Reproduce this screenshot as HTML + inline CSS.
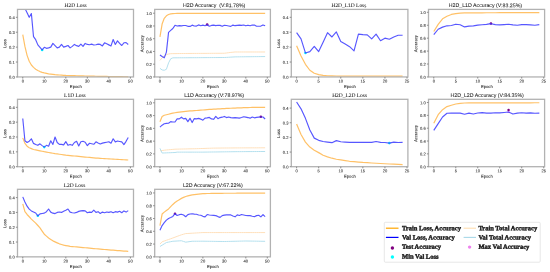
<!DOCTYPE html>
<html><head><meta charset="utf-8"><style>
html,body{margin:0;padding:0;background:#fff;}
body{width:550px;height:272px;overflow:hidden;}
svg{display:block;will-change:transform;}
text{text-rendering:geometricPrecision;}
</style></head><body>
<svg width="550" height="272" viewBox="0 0 550 272">
<defs></defs>
<rect width="550" height="272" fill="#fff"/>
<clipPath id="c0"><rect x="17.5" y="9.4" width="116.00" height="68.35"/></clipPath>
<g clip-path="url(#c0)"><circle cx="42.14" cy="49.96" r="1.3" fill="#00ffff"/><polyline points="22.77,34.60 24.92,46.38 27.08,55.33 29.23,61.29 31.38,65.02 33.53,67.41 35.69,69.20 37.84,70.54 39.99,71.58 42.14,72.33 44.29,72.92 46.45,73.37 48.60,73.82 50.75,74.12 52.90,74.42 55.05,74.71 57.21,74.86 59.36,75.01 61.51,75.16 63.66,75.31 65.82,75.46 67.97,75.52 70.12,75.58 72.27,75.64 74.42,75.70 76.58,75.76 78.73,75.82 80.88,75.88 83.03,75.94 85.18,76.00 87.34,76.06 89.49,76.10 91.64,76.14 93.79,76.19 95.95,76.23 98.10,76.28 100.25,76.32 102.40,76.37 104.55,76.41 106.71,76.46 108.86,76.50 111.01,76.54 113.16,76.57 115.31,76.60 117.47,76.64 119.62,76.67 121.77,76.70 123.92,76.73 126.08,76.77 128.23,76.80" fill="none" stroke="#ffa726" stroke-width="1.2" stroke-opacity="0.7" stroke-linejoin="round"/><polyline points="22.77,2.39 24.92,8.36 27.08,12.83 29.23,17.30 31.38,13.58 33.53,36.69 35.69,39.67 37.84,44.89 39.99,47.42 42.14,49.96 44.29,47.28 46.45,48.32 48.60,47.87 50.75,47.13 52.90,43.40 55.05,45.64 57.21,47.87 59.36,47.13 61.51,44.44 63.66,47.13 65.82,46.38 67.97,45.49 70.12,47.87 72.27,46.38 74.42,44.44 76.58,45.64 78.73,46.38 80.88,44.14 83.03,46.38 85.18,43.40 87.34,44.44 89.49,44.74 91.64,44.14 93.79,45.04 95.95,44.74 98.10,44.14 100.25,44.44 102.40,45.93 104.55,42.80 106.71,43.85 108.86,44.89 111.01,45.93 113.16,39.52 115.31,44.44 117.47,40.86 119.62,43.40 121.77,45.49 123.92,42.80 126.08,42.65 128.23,44.44" fill="none" stroke="#3a3aff" stroke-width="1.15" stroke-opacity="0.85" stroke-linejoin="round"/></g>
<rect x="17.5" y="9.4" width="116.00" height="67.55" fill="none" stroke="#b2b2b2" stroke-width="1.3"/>
<line x1="15.90" y1="76.95" x2="17.50" y2="76.95" stroke="#808080" stroke-width="0.9"/>
<text transform="translate(14.70,78.63) rotate(0.1)" x="0" y="0" font-size="4.1" text-anchor="end" fill="#1a1a1a" style="font-family:Liberation Sans,sans-serif;" stroke="#1a1a1a" stroke-width="0.050">0.0</text>
<line x1="15.90" y1="62.04" x2="17.50" y2="62.04" stroke="#808080" stroke-width="0.9"/>
<text transform="translate(14.70,63.71) rotate(0.1)" x="0" y="0" font-size="4.1" text-anchor="end" fill="#1a1a1a" style="font-family:Liberation Sans,sans-serif;" stroke="#1a1a1a" stroke-width="0.050">0.1</text>
<line x1="15.90" y1="47.13" x2="17.50" y2="47.13" stroke="#808080" stroke-width="0.9"/>
<text transform="translate(14.70,48.80) rotate(0.1)" x="0" y="0" font-size="4.1" text-anchor="end" fill="#1a1a1a" style="font-family:Liberation Sans,sans-serif;" stroke="#1a1a1a" stroke-width="0.050">0.2</text>
<line x1="15.90" y1="32.21" x2="17.50" y2="32.21" stroke="#808080" stroke-width="0.9"/>
<text transform="translate(14.70,33.89) rotate(0.1)" x="0" y="0" font-size="4.1" text-anchor="end" fill="#1a1a1a" style="font-family:Liberation Sans,sans-serif;" stroke="#1a1a1a" stroke-width="0.050">0.3</text>
<line x1="15.90" y1="17.30" x2="17.50" y2="17.30" stroke="#808080" stroke-width="0.9"/>
<text transform="translate(14.70,18.98) rotate(0.1)" x="0" y="0" font-size="4.1" text-anchor="end" fill="#1a1a1a" style="font-family:Liberation Sans,sans-serif;" stroke="#1a1a1a" stroke-width="0.050">0.4</text>
<line x1="22.77" y1="76.95" x2="22.77" y2="78.55" stroke="#808080" stroke-width="0.9"/>
<text transform="translate(22.77,82.60) rotate(0.1)" x="0" y="0" font-size="4.1" text-anchor="middle" fill="#1a1a1a" style="font-family:Liberation Sans,sans-serif;" stroke="#1a1a1a" stroke-width="0.050">0</text>
<line x1="44.29" y1="76.95" x2="44.29" y2="78.55" stroke="#808080" stroke-width="0.9"/>
<text transform="translate(44.29,82.60) rotate(0.1)" x="0" y="0" font-size="4.1" text-anchor="middle" fill="#1a1a1a" style="font-family:Liberation Sans,sans-serif;" stroke="#1a1a1a" stroke-width="0.050">10</text>
<line x1="65.82" y1="76.95" x2="65.82" y2="78.55" stroke="#808080" stroke-width="0.9"/>
<text transform="translate(65.82,82.60) rotate(0.1)" x="0" y="0" font-size="4.1" text-anchor="middle" fill="#1a1a1a" style="font-family:Liberation Sans,sans-serif;" stroke="#1a1a1a" stroke-width="0.050">20</text>
<line x1="87.34" y1="76.95" x2="87.34" y2="78.55" stroke="#808080" stroke-width="0.9"/>
<text transform="translate(87.34,82.60) rotate(0.1)" x="0" y="0" font-size="4.1" text-anchor="middle" fill="#1a1a1a" style="font-family:Liberation Sans,sans-serif;" stroke="#1a1a1a" stroke-width="0.050">30</text>
<line x1="108.86" y1="76.95" x2="108.86" y2="78.55" stroke="#808080" stroke-width="0.9"/>
<text transform="translate(108.86,82.60) rotate(0.1)" x="0" y="0" font-size="4.1" text-anchor="middle" fill="#1a1a1a" style="font-family:Liberation Sans,sans-serif;" stroke="#1a1a1a" stroke-width="0.050">40</text>
<line x1="130.38" y1="76.95" x2="130.38" y2="78.55" stroke="#808080" stroke-width="0.9"/>
<text transform="translate(130.38,82.60) rotate(0.1)" x="0" y="0" font-size="4.1" text-anchor="middle" fill="#1a1a1a" style="font-family:Liberation Sans,sans-serif;" stroke="#1a1a1a" stroke-width="0.050">50</text>
<text transform="translate(75.80,88.00) rotate(0.1)" x="0" y="0" font-size="4.2" text-anchor="middle" fill="#1a1a1a" style="font-family:Liberation Sans,sans-serif;" stroke="#1a1a1a" stroke-width="0.051">Epoch</text>
<text transform="translate(6.20,43.68) rotate(-89.9)" x="0" y="0" font-size="4.2" text-anchor="middle" fill="#1a1a1a" style="font-family:Liberation Sans,sans-serif;" stroke="#1a1a1a" stroke-width="0.051">Loss</text>
<text transform="translate(75.60,7.10) rotate(0.1)" x="0" y="0" font-size="5.45" text-anchor="middle" fill="#1a1a1a" style="font-family:Liberation Serif,serif;" stroke="#1a1a1a" stroke-width="0.053">H2D Loss</text>
<clipPath id="c1"><rect x="154.7" y="9.4" width="115.70" height="68.35"/></clipPath>
<g clip-path="url(#c1)"><circle cx="207.18" cy="24.57" r="1.3" fill="#800080"/><polyline points="159.96,60.38 162.11,57.83 164.25,55.92 166.40,54.65 168.55,54.01 170.69,53.69 172.84,53.65 174.99,53.61 177.13,53.58 179.28,53.54 181.42,53.50 183.57,53.49 185.72,53.47 187.86,53.46 190.01,53.45 192.16,53.43 194.30,53.42 196.45,53.41 198.60,53.40 200.74,53.38 202.89,53.37 205.04,53.36 207.18,53.35 209.33,53.33 211.48,53.32 213.62,53.31 215.77,53.29 217.92,53.28 220.06,53.27 222.21,53.26 224.36,53.24 226.50,52.97 228.65,52.69 230.80,52.42 232.94,52.19 235.09,51.97 237.24,51.97 239.38,51.97 241.53,51.97 243.68,51.97 245.82,51.97 247.97,51.97 250.11,51.97 252.26,51.97 254.41,51.97 256.55,51.97 258.70,51.97 260.85,51.97 262.99,51.97 265.14,51.97" fill="none" stroke="#ffe0bc" stroke-width="1.0" stroke-opacity="1.0" stroke-linejoin="round"/><polyline points="159.96,68.35 162.11,69.94 164.25,70.26 166.40,69.30 168.55,62.93 170.69,58.79 172.84,57.83 174.99,57.82 177.13,57.81 179.28,57.79 181.42,57.78 183.57,57.77 185.72,57.75 187.86,57.74 190.01,57.73 192.16,57.71 194.30,57.70 196.45,57.69 198.60,57.67 200.74,57.66 202.89,57.65 205.04,57.63 207.18,57.62 209.33,57.61 211.48,57.59 213.62,57.58 215.77,57.57 217.92,57.55 220.06,57.54 222.21,57.53 224.36,57.51 226.50,57.39 228.65,57.26 230.80,57.13 232.94,57.00 235.09,56.88 237.24,56.85 239.38,56.83 241.53,56.81 243.68,56.79 245.82,56.76 247.97,56.74 250.11,56.72 252.26,56.69 254.41,56.67 256.55,56.65 258.70,56.63 260.85,56.60 262.99,56.58 265.14,56.56" fill="none" stroke="#b4e0ee" stroke-width="1.0" stroke-opacity="1.0" stroke-linejoin="round"/><polyline points="159.96,36.80 162.11,24.06 164.25,18.32 166.40,15.77 168.55,14.50 170.69,13.86 172.84,13.54 174.99,13.49 177.13,13.45 179.28,13.40 181.42,13.35 183.57,13.35 185.72,13.35 187.86,13.35 190.01,13.34 192.16,13.34 194.30,13.34 196.45,13.34 198.60,13.34 200.74,13.34 202.89,13.33 205.04,13.33 207.18,13.33 209.33,13.33 211.48,13.33 213.62,13.33 215.77,13.32 217.92,13.32 220.06,13.32 222.21,13.32 224.36,13.32 226.50,13.32 228.65,13.32 230.80,13.31 232.94,13.31 235.09,13.31 237.24,13.31 239.38,13.31 241.53,13.31 243.68,13.30 245.82,13.30 247.97,13.30 250.11,13.30 252.26,13.30 254.41,13.30 256.55,13.29 258.70,13.29 260.85,13.29 262.99,13.29 265.14,13.29" fill="none" stroke="#ffa726" stroke-width="1.2" stroke-opacity="0.7" stroke-linejoin="round"/><polyline points="159.96,55.03 162.11,56.56 164.25,57.83 166.40,52.10 168.55,32.34 170.69,30.43 172.84,28.52 174.99,25.33 177.13,26.05 179.28,25.58 181.42,25.85 183.57,25.49 185.72,25.46 187.86,26.31 190.01,26.39 192.16,25.13 194.30,26.02 196.45,26.06 198.60,24.89 200.74,25.70 202.89,25.14 205.04,25.69 207.18,24.69 209.33,26.18 211.48,25.44 213.62,25.09 215.77,25.61 217.92,25.28 220.06,25.39 222.21,26.32 224.36,25.26 226.50,25.51 228.65,25.95 230.80,26.37 232.94,25.09 235.09,25.69 237.24,25.32 239.38,25.07 241.53,25.32 243.68,25.01 245.82,25.81 247.97,25.19 250.11,25.73 252.26,24.98 254.41,25.07 256.55,26.27 258.70,26.21 260.85,26.08 262.99,24.94 265.14,25.75" fill="none" stroke="#3a3aff" stroke-width="1.15" stroke-opacity="0.85" stroke-linejoin="round"/></g>
<rect x="154.7" y="9.4" width="115.70" height="67.55" fill="none" stroke="#b2b2b2" stroke-width="1.3"/>
<line x1="153.10" y1="76.95" x2="154.70" y2="76.95" stroke="#808080" stroke-width="0.9"/>
<text transform="translate(151.90,78.63) rotate(0.1)" x="0" y="0" font-size="4.1" text-anchor="end" fill="#1a1a1a" style="font-family:Liberation Sans,sans-serif;" stroke="#1a1a1a" stroke-width="0.050">0.0</text>
<line x1="153.10" y1="64.20" x2="154.70" y2="64.20" stroke="#808080" stroke-width="0.9"/>
<text transform="translate(151.90,65.88) rotate(0.1)" x="0" y="0" font-size="4.1" text-anchor="end" fill="#1a1a1a" style="font-family:Liberation Sans,sans-serif;" stroke="#1a1a1a" stroke-width="0.050">0.2</text>
<line x1="153.10" y1="51.46" x2="154.70" y2="51.46" stroke="#808080" stroke-width="0.9"/>
<text transform="translate(151.90,53.14) rotate(0.1)" x="0" y="0" font-size="4.1" text-anchor="end" fill="#1a1a1a" style="font-family:Liberation Sans,sans-serif;" stroke="#1a1a1a" stroke-width="0.050">0.4</text>
<line x1="153.10" y1="38.71" x2="154.70" y2="38.71" stroke="#808080" stroke-width="0.9"/>
<text transform="translate(151.90,40.39) rotate(0.1)" x="0" y="0" font-size="4.1" text-anchor="end" fill="#1a1a1a" style="font-family:Liberation Sans,sans-serif;" stroke="#1a1a1a" stroke-width="0.050">0.6</text>
<line x1="153.10" y1="25.97" x2="154.70" y2="25.97" stroke="#808080" stroke-width="0.9"/>
<text transform="translate(151.90,27.64) rotate(0.1)" x="0" y="0" font-size="4.1" text-anchor="end" fill="#1a1a1a" style="font-family:Liberation Sans,sans-serif;" stroke="#1a1a1a" stroke-width="0.050">0.8</text>
<line x1="153.10" y1="13.22" x2="154.70" y2="13.22" stroke="#808080" stroke-width="0.9"/>
<text transform="translate(151.90,14.90) rotate(0.1)" x="0" y="0" font-size="4.1" text-anchor="end" fill="#1a1a1a" style="font-family:Liberation Sans,sans-serif;" stroke="#1a1a1a" stroke-width="0.050">1.0</text>
<line x1="159.96" y1="76.95" x2="159.96" y2="78.55" stroke="#808080" stroke-width="0.9"/>
<text transform="translate(159.96,82.60) rotate(0.1)" x="0" y="0" font-size="4.1" text-anchor="middle" fill="#1a1a1a" style="font-family:Liberation Sans,sans-serif;" stroke="#1a1a1a" stroke-width="0.050">0</text>
<line x1="181.42" y1="76.95" x2="181.42" y2="78.55" stroke="#808080" stroke-width="0.9"/>
<text transform="translate(181.42,82.60) rotate(0.1)" x="0" y="0" font-size="4.1" text-anchor="middle" fill="#1a1a1a" style="font-family:Liberation Sans,sans-serif;" stroke="#1a1a1a" stroke-width="0.050">10</text>
<line x1="202.89" y1="76.95" x2="202.89" y2="78.55" stroke="#808080" stroke-width="0.9"/>
<text transform="translate(202.89,82.60) rotate(0.1)" x="0" y="0" font-size="4.1" text-anchor="middle" fill="#1a1a1a" style="font-family:Liberation Sans,sans-serif;" stroke="#1a1a1a" stroke-width="0.050">20</text>
<line x1="224.36" y1="76.95" x2="224.36" y2="78.55" stroke="#808080" stroke-width="0.9"/>
<text transform="translate(224.36,82.60) rotate(0.1)" x="0" y="0" font-size="4.1" text-anchor="middle" fill="#1a1a1a" style="font-family:Liberation Sans,sans-serif;" stroke="#1a1a1a" stroke-width="0.050">30</text>
<line x1="245.82" y1="76.95" x2="245.82" y2="78.55" stroke="#808080" stroke-width="0.9"/>
<text transform="translate(245.82,82.60) rotate(0.1)" x="0" y="0" font-size="4.1" text-anchor="middle" fill="#1a1a1a" style="font-family:Liberation Sans,sans-serif;" stroke="#1a1a1a" stroke-width="0.050">40</text>
<line x1="267.29" y1="76.95" x2="267.29" y2="78.55" stroke="#808080" stroke-width="0.9"/>
<text transform="translate(267.29,82.60) rotate(0.1)" x="0" y="0" font-size="4.1" text-anchor="middle" fill="#1a1a1a" style="font-family:Liberation Sans,sans-serif;" stroke="#1a1a1a" stroke-width="0.050">50</text>
<text transform="translate(212.85,88.00) rotate(0.1)" x="0" y="0" font-size="4.2" text-anchor="middle" fill="#1a1a1a" style="font-family:Liberation Sans,sans-serif;" stroke="#1a1a1a" stroke-width="0.051">Epoch</text>
<text transform="translate(143.40,43.68) rotate(-89.9)" x="0" y="0" font-size="4.2" text-anchor="middle" fill="#1a1a1a" style="font-family:Liberation Sans,sans-serif;" stroke="#1a1a1a" stroke-width="0.051">Accuracy</text>
<text transform="translate(214.20,7.10) rotate(0.1)" x="0" y="0" font-size="5.25" text-anchor="middle" fill="#1a1a1a" style="font-family:Liberation Sans,sans-serif;" stroke="#1a1a1a" stroke-width="0.051" xml:space="preserve">H2D Accuracy  (V:81.78%)</text>
<clipPath id="c2"><rect x="291.3" y="9.4" width="116.60" height="68.35"/></clipPath>
<g clip-path="url(#c2)"><circle cx="305.43" cy="52.94" r="1.3" fill="#00ffff"/><polyline points="296.60,45.78 301.02,56.07 305.43,64.28 309.85,70.24 314.27,73.22 318.68,74.56 323.10,75.31 327.52,75.76 331.93,75.91 336.35,75.98 340.77,76.06 345.18,76.09 349.60,76.11 354.02,76.14 358.43,76.17 362.85,76.20 367.27,76.20 371.68,76.20 376.10,76.20 380.52,76.20 384.93,76.20 389.35,76.20 393.77,76.20 398.18,76.20 402.60,76.20" fill="none" stroke="#ffa726" stroke-width="1.2" stroke-opacity="0.7" stroke-linejoin="round"/><polyline points="296.60,32.66 301.02,38.93 305.43,52.94 309.85,51.60 314.27,46.38 318.68,51.60 323.10,42.21 327.52,32.66 331.93,36.99 336.35,31.92 340.77,41.46 345.18,44.00 349.60,46.68 354.02,50.85 358.43,34.15 362.85,34.60 367.27,34.90 371.68,38.93 376.10,34.15 380.52,40.71 384.93,38.18 389.35,39.22 393.77,36.99 398.18,35.20 402.60,35.20" fill="none" stroke="#3a3aff" stroke-width="1.15" stroke-opacity="0.85" stroke-linejoin="round"/></g>
<rect x="291.3" y="9.4" width="116.60" height="67.55" fill="none" stroke="#b2b2b2" stroke-width="1.3"/>
<line x1="289.70" y1="76.95" x2="291.30" y2="76.95" stroke="#808080" stroke-width="0.9"/>
<text transform="translate(288.50,78.63) rotate(0.1)" x="0" y="0" font-size="4.1" text-anchor="end" fill="#1a1a1a" style="font-family:Liberation Sans,sans-serif;" stroke="#1a1a1a" stroke-width="0.050">0.0</text>
<line x1="289.70" y1="62.04" x2="291.30" y2="62.04" stroke="#808080" stroke-width="0.9"/>
<text transform="translate(288.50,63.71) rotate(0.1)" x="0" y="0" font-size="4.1" text-anchor="end" fill="#1a1a1a" style="font-family:Liberation Sans,sans-serif;" stroke="#1a1a1a" stroke-width="0.050">0.1</text>
<line x1="289.70" y1="47.13" x2="291.30" y2="47.13" stroke="#808080" stroke-width="0.9"/>
<text transform="translate(288.50,48.80) rotate(0.1)" x="0" y="0" font-size="4.1" text-anchor="end" fill="#1a1a1a" style="font-family:Liberation Sans,sans-serif;" stroke="#1a1a1a" stroke-width="0.050">0.2</text>
<line x1="289.70" y1="32.21" x2="291.30" y2="32.21" stroke="#808080" stroke-width="0.9"/>
<text transform="translate(288.50,33.89) rotate(0.1)" x="0" y="0" font-size="4.1" text-anchor="end" fill="#1a1a1a" style="font-family:Liberation Sans,sans-serif;" stroke="#1a1a1a" stroke-width="0.050">0.3</text>
<line x1="289.70" y1="17.30" x2="291.30" y2="17.30" stroke="#808080" stroke-width="0.9"/>
<text transform="translate(288.50,18.98) rotate(0.1)" x="0" y="0" font-size="4.1" text-anchor="end" fill="#1a1a1a" style="font-family:Liberation Sans,sans-serif;" stroke="#1a1a1a" stroke-width="0.050">0.4</text>
<line x1="296.60" y1="76.95" x2="296.60" y2="78.55" stroke="#808080" stroke-width="0.9"/>
<text transform="translate(296.60,82.60) rotate(0.1)" x="0" y="0" font-size="4.1" text-anchor="middle" fill="#1a1a1a" style="font-family:Liberation Sans,sans-serif;" stroke="#1a1a1a" stroke-width="0.050">0</text>
<line x1="318.68" y1="76.95" x2="318.68" y2="78.55" stroke="#808080" stroke-width="0.9"/>
<text transform="translate(318.68,82.60) rotate(0.1)" x="0" y="0" font-size="4.1" text-anchor="middle" fill="#1a1a1a" style="font-family:Liberation Sans,sans-serif;" stroke="#1a1a1a" stroke-width="0.050">5</text>
<line x1="340.77" y1="76.95" x2="340.77" y2="78.55" stroke="#808080" stroke-width="0.9"/>
<text transform="translate(340.77,82.60) rotate(0.1)" x="0" y="0" font-size="4.1" text-anchor="middle" fill="#1a1a1a" style="font-family:Liberation Sans,sans-serif;" stroke="#1a1a1a" stroke-width="0.050">10</text>
<line x1="362.85" y1="76.95" x2="362.85" y2="78.55" stroke="#808080" stroke-width="0.9"/>
<text transform="translate(362.85,82.60) rotate(0.1)" x="0" y="0" font-size="4.1" text-anchor="middle" fill="#1a1a1a" style="font-family:Liberation Sans,sans-serif;" stroke="#1a1a1a" stroke-width="0.050">15</text>
<line x1="384.93" y1="76.95" x2="384.93" y2="78.55" stroke="#808080" stroke-width="0.9"/>
<text transform="translate(384.93,82.60) rotate(0.1)" x="0" y="0" font-size="4.1" text-anchor="middle" fill="#1a1a1a" style="font-family:Liberation Sans,sans-serif;" stroke="#1a1a1a" stroke-width="0.050">20</text>
<line x1="407.02" y1="76.95" x2="407.02" y2="78.55" stroke="#808080" stroke-width="0.9"/>
<text transform="translate(407.02,82.60) rotate(0.1)" x="0" y="0" font-size="4.1" text-anchor="middle" fill="#1a1a1a" style="font-family:Liberation Sans,sans-serif;" stroke="#1a1a1a" stroke-width="0.050">25</text>
<text transform="translate(349.90,88.00) rotate(0.1)" x="0" y="0" font-size="4.2" text-anchor="middle" fill="#1a1a1a" style="font-family:Liberation Sans,sans-serif;" stroke="#1a1a1a" stroke-width="0.051">Epoch</text>
<text transform="translate(280.00,43.68) rotate(-89.9)" x="0" y="0" font-size="4.2" text-anchor="middle" fill="#1a1a1a" style="font-family:Liberation Sans,sans-serif;" stroke="#1a1a1a" stroke-width="0.051">Loss</text>
<text transform="translate(348.90,7.10) rotate(0.1)" x="0" y="0" font-size="5.45" text-anchor="middle" fill="#1a1a1a" style="font-family:Liberation Serif,serif;" stroke="#1a1a1a" stroke-width="0.053">H2D_L1D Loss</text>
<clipPath id="c3"><rect x="428.5" y="9.4" width="116.10" height="68.35"/></clipPath>
<g clip-path="url(#c3)"><circle cx="490.95" cy="23.43" r="1.3" fill="#800080"/><polyline points="433.78,31.51 438.18,24.33 442.57,18.84 446.97,16.19 451.37,14.44 455.77,13.60 460.16,13.08 464.56,12.96 468.96,12.83 473.36,12.81 477.75,12.79 482.15,12.78 486.55,12.76 490.95,12.75 495.35,12.73 499.74,12.71 504.14,12.70 508.54,12.68 512.94,12.66 517.33,12.65 521.73,12.63 526.13,12.62 530.53,12.60 534.93,12.58 539.32,12.57" fill="none" stroke="#ffa726" stroke-width="1.2" stroke-opacity="0.7" stroke-linejoin="round"/><polyline points="433.78,34.67 438.18,29.24 442.57,27.11 446.97,25.82 451.37,25.50 455.77,24.20 460.16,24.72 464.56,26.92 468.96,26.08 473.36,25.82 477.75,25.11 482.15,24.72 486.55,24.40 490.95,23.69 495.35,24.59 499.74,24.91 504.14,24.59 508.54,24.27 512.94,24.91 517.33,25.24 521.73,24.59 526.13,24.59 530.53,24.91 534.93,25.24 539.32,24.59" fill="none" stroke="#3a3aff" stroke-width="1.15" stroke-opacity="0.85" stroke-linejoin="round"/></g>
<rect x="428.5" y="9.4" width="116.10" height="67.55" fill="none" stroke="#b2b2b2" stroke-width="1.3"/>
<line x1="426.90" y1="76.95" x2="428.50" y2="76.95" stroke="#808080" stroke-width="0.9"/>
<text transform="translate(425.70,78.63) rotate(0.1)" x="0" y="0" font-size="4.1" text-anchor="end" fill="#1a1a1a" style="font-family:Liberation Sans,sans-serif;" stroke="#1a1a1a" stroke-width="0.050">0.0</text>
<line x1="426.90" y1="64.02" x2="428.50" y2="64.02" stroke="#808080" stroke-width="0.9"/>
<text transform="translate(425.70,65.70) rotate(0.1)" x="0" y="0" font-size="4.1" text-anchor="end" fill="#1a1a1a" style="font-family:Liberation Sans,sans-serif;" stroke="#1a1a1a" stroke-width="0.050">0.2</text>
<line x1="426.90" y1="51.09" x2="428.50" y2="51.09" stroke="#808080" stroke-width="0.9"/>
<text transform="translate(425.70,52.77) rotate(0.1)" x="0" y="0" font-size="4.1" text-anchor="end" fill="#1a1a1a" style="font-family:Liberation Sans,sans-serif;" stroke="#1a1a1a" stroke-width="0.050">0.4</text>
<line x1="426.90" y1="38.17" x2="428.50" y2="38.17" stroke="#808080" stroke-width="0.9"/>
<text transform="translate(425.70,39.84) rotate(0.1)" x="0" y="0" font-size="4.1" text-anchor="end" fill="#1a1a1a" style="font-family:Liberation Sans,sans-serif;" stroke="#1a1a1a" stroke-width="0.050">0.6</text>
<line x1="426.90" y1="25.24" x2="428.50" y2="25.24" stroke="#808080" stroke-width="0.9"/>
<text transform="translate(425.70,26.91) rotate(0.1)" x="0" y="0" font-size="4.1" text-anchor="end" fill="#1a1a1a" style="font-family:Liberation Sans,sans-serif;" stroke="#1a1a1a" stroke-width="0.050">0.8</text>
<line x1="426.90" y1="12.31" x2="428.50" y2="12.31" stroke="#808080" stroke-width="0.9"/>
<text transform="translate(425.70,13.98) rotate(0.1)" x="0" y="0" font-size="4.1" text-anchor="end" fill="#1a1a1a" style="font-family:Liberation Sans,sans-serif;" stroke="#1a1a1a" stroke-width="0.050">1.0</text>
<line x1="433.78" y1="76.95" x2="433.78" y2="78.55" stroke="#808080" stroke-width="0.9"/>
<text transform="translate(433.78,82.60) rotate(0.1)" x="0" y="0" font-size="4.1" text-anchor="middle" fill="#1a1a1a" style="font-family:Liberation Sans,sans-serif;" stroke="#1a1a1a" stroke-width="0.050">0</text>
<line x1="455.77" y1="76.95" x2="455.77" y2="78.55" stroke="#808080" stroke-width="0.9"/>
<text transform="translate(455.77,82.60) rotate(0.1)" x="0" y="0" font-size="4.1" text-anchor="middle" fill="#1a1a1a" style="font-family:Liberation Sans,sans-serif;" stroke="#1a1a1a" stroke-width="0.050">5</text>
<line x1="477.75" y1="76.95" x2="477.75" y2="78.55" stroke="#808080" stroke-width="0.9"/>
<text transform="translate(477.75,82.60) rotate(0.1)" x="0" y="0" font-size="4.1" text-anchor="middle" fill="#1a1a1a" style="font-family:Liberation Sans,sans-serif;" stroke="#1a1a1a" stroke-width="0.050">10</text>
<line x1="499.74" y1="76.95" x2="499.74" y2="78.55" stroke="#808080" stroke-width="0.9"/>
<text transform="translate(499.74,82.60) rotate(0.1)" x="0" y="0" font-size="4.1" text-anchor="middle" fill="#1a1a1a" style="font-family:Liberation Sans,sans-serif;" stroke="#1a1a1a" stroke-width="0.050">15</text>
<line x1="521.73" y1="76.95" x2="521.73" y2="78.55" stroke="#808080" stroke-width="0.9"/>
<text transform="translate(521.73,82.60) rotate(0.1)" x="0" y="0" font-size="4.1" text-anchor="middle" fill="#1a1a1a" style="font-family:Liberation Sans,sans-serif;" stroke="#1a1a1a" stroke-width="0.050">20</text>
<line x1="543.72" y1="76.95" x2="543.72" y2="78.55" stroke="#808080" stroke-width="0.9"/>
<text transform="translate(543.72,82.60) rotate(0.1)" x="0" y="0" font-size="4.1" text-anchor="middle" fill="#1a1a1a" style="font-family:Liberation Sans,sans-serif;" stroke="#1a1a1a" stroke-width="0.050">25</text>
<text transform="translate(486.85,88.00) rotate(0.1)" x="0" y="0" font-size="4.2" text-anchor="middle" fill="#1a1a1a" style="font-family:Liberation Sans,sans-serif;" stroke="#1a1a1a" stroke-width="0.051">Epoch</text>
<text transform="translate(417.20,43.68) rotate(-89.9)" x="0" y="0" font-size="4.2" text-anchor="middle" fill="#1a1a1a" style="font-family:Liberation Sans,sans-serif;" stroke="#1a1a1a" stroke-width="0.051">Accuracy</text>
<text transform="translate(485.45,7.10) rotate(0.1)" x="0" y="0" font-size="5.25" text-anchor="middle" fill="#1a1a1a" style="font-family:Liberation Sans,sans-serif;" stroke="#1a1a1a" stroke-width="0.051">H2D_L1D Accuracy (V:83.25%)</text>
<clipPath id="c4"><rect x="17.5" y="99.3" width="116.00" height="68.20"/></clipPath>
<g clip-path="url(#c4)"><circle cx="44.29" cy="147.10" r="1.3" fill="#00ffff"/><polyline points="22.77,137.90 24.92,143.39 27.08,146.21 29.23,147.70 31.38,148.59 33.53,149.48 35.69,149.92 37.84,150.37 39.99,150.81 42.14,151.26 44.29,151.71 46.45,152.09 48.60,152.48 50.75,152.86 52.90,153.25 55.05,153.64 57.21,153.93 59.36,154.23 61.51,154.53 63.66,154.82 65.82,155.12 67.97,155.34 70.12,155.57 72.27,155.79 74.42,156.01 76.58,156.22 78.73,156.43 80.88,156.63 83.03,156.84 85.18,157.05 87.34,157.26 89.49,157.47 91.64,157.67 93.79,157.88 95.95,158.09 98.10,158.22 100.25,158.35 102.40,158.48 104.55,158.60 106.71,158.73 108.86,158.86 111.01,158.99 113.16,159.12 115.31,159.25 117.47,159.38 119.62,159.50 121.77,159.63 123.92,159.76 126.08,159.89 128.23,160.02" fill="none" stroke="#ffa726" stroke-width="1.2" stroke-opacity="0.7" stroke-linejoin="round"/><polyline points="22.77,118.45 24.92,140.72 27.08,142.50 29.23,141.17 31.38,138.79 33.53,143.39 35.69,144.43 37.84,145.32 39.99,143.84 42.14,145.62 44.29,147.10 46.45,145.32 48.60,146.21 50.75,140.72 52.90,144.43 55.05,137.01 57.21,142.50 59.36,144.43 61.51,144.43 63.66,144.88 65.82,141.61 67.97,145.32 70.12,144.43 72.27,145.32 74.42,142.50 76.58,141.31 78.73,145.92 80.88,141.76 83.03,141.31 85.18,142.20 87.34,145.62 89.49,143.24 91.64,143.69 93.79,144.28 95.95,141.76 98.10,142.95 100.25,143.99 102.40,143.10 104.55,142.65 106.71,142.20 108.86,141.76 111.01,143.24 113.16,138.79 115.31,141.91 117.47,141.02 119.62,141.46 121.77,141.91 123.92,144.58 126.08,141.31 128.23,137.45" fill="none" stroke="#3a3aff" stroke-width="1.15" stroke-opacity="0.85" stroke-linejoin="round"/></g>
<rect x="17.5" y="99.3" width="116.00" height="67.40" fill="none" stroke="#b2b2b2" stroke-width="1.3"/>
<line x1="15.90" y1="166.70" x2="17.50" y2="166.70" stroke="#808080" stroke-width="0.9"/>
<text transform="translate(14.70,168.38) rotate(0.1)" x="0" y="0" font-size="4.1" text-anchor="end" fill="#1a1a1a" style="font-family:Liberation Sans,sans-serif;" stroke="#1a1a1a" stroke-width="0.050">0.0</text>
<line x1="15.90" y1="151.85" x2="17.50" y2="151.85" stroke="#808080" stroke-width="0.9"/>
<text transform="translate(14.70,153.53) rotate(0.1)" x="0" y="0" font-size="4.1" text-anchor="end" fill="#1a1a1a" style="font-family:Liberation Sans,sans-serif;" stroke="#1a1a1a" stroke-width="0.050">0.1</text>
<line x1="15.90" y1="137.01" x2="17.50" y2="137.01" stroke="#808080" stroke-width="0.9"/>
<text transform="translate(14.70,138.68) rotate(0.1)" x="0" y="0" font-size="4.1" text-anchor="end" fill="#1a1a1a" style="font-family:Liberation Sans,sans-serif;" stroke="#1a1a1a" stroke-width="0.050">0.2</text>
<line x1="15.90" y1="122.16" x2="17.50" y2="122.16" stroke="#808080" stroke-width="0.9"/>
<text transform="translate(14.70,123.84) rotate(0.1)" x="0" y="0" font-size="4.1" text-anchor="end" fill="#1a1a1a" style="font-family:Liberation Sans,sans-serif;" stroke="#1a1a1a" stroke-width="0.050">0.3</text>
<line x1="15.90" y1="107.32" x2="17.50" y2="107.32" stroke="#808080" stroke-width="0.9"/>
<text transform="translate(14.70,108.99) rotate(0.1)" x="0" y="0" font-size="4.1" text-anchor="end" fill="#1a1a1a" style="font-family:Liberation Sans,sans-serif;" stroke="#1a1a1a" stroke-width="0.050">0.4</text>
<line x1="22.77" y1="166.70" x2="22.77" y2="168.30" stroke="#808080" stroke-width="0.9"/>
<text transform="translate(22.77,172.35) rotate(0.1)" x="0" y="0" font-size="4.1" text-anchor="middle" fill="#1a1a1a" style="font-family:Liberation Sans,sans-serif;" stroke="#1a1a1a" stroke-width="0.050">0</text>
<line x1="44.29" y1="166.70" x2="44.29" y2="168.30" stroke="#808080" stroke-width="0.9"/>
<text transform="translate(44.29,172.35) rotate(0.1)" x="0" y="0" font-size="4.1" text-anchor="middle" fill="#1a1a1a" style="font-family:Liberation Sans,sans-serif;" stroke="#1a1a1a" stroke-width="0.050">10</text>
<line x1="65.82" y1="166.70" x2="65.82" y2="168.30" stroke="#808080" stroke-width="0.9"/>
<text transform="translate(65.82,172.35) rotate(0.1)" x="0" y="0" font-size="4.1" text-anchor="middle" fill="#1a1a1a" style="font-family:Liberation Sans,sans-serif;" stroke="#1a1a1a" stroke-width="0.050">20</text>
<line x1="87.34" y1="166.70" x2="87.34" y2="168.30" stroke="#808080" stroke-width="0.9"/>
<text transform="translate(87.34,172.35) rotate(0.1)" x="0" y="0" font-size="4.1" text-anchor="middle" fill="#1a1a1a" style="font-family:Liberation Sans,sans-serif;" stroke="#1a1a1a" stroke-width="0.050">30</text>
<line x1="108.86" y1="166.70" x2="108.86" y2="168.30" stroke="#808080" stroke-width="0.9"/>
<text transform="translate(108.86,172.35) rotate(0.1)" x="0" y="0" font-size="4.1" text-anchor="middle" fill="#1a1a1a" style="font-family:Liberation Sans,sans-serif;" stroke="#1a1a1a" stroke-width="0.050">40</text>
<line x1="130.38" y1="166.70" x2="130.38" y2="168.30" stroke="#808080" stroke-width="0.9"/>
<text transform="translate(130.38,172.35) rotate(0.1)" x="0" y="0" font-size="4.1" text-anchor="middle" fill="#1a1a1a" style="font-family:Liberation Sans,sans-serif;" stroke="#1a1a1a" stroke-width="0.050">50</text>
<text transform="translate(75.80,177.75) rotate(0.1)" x="0" y="0" font-size="4.2" text-anchor="middle" fill="#1a1a1a" style="font-family:Liberation Sans,sans-serif;" stroke="#1a1a1a" stroke-width="0.051">Epoch</text>
<text transform="translate(6.20,133.50) rotate(-89.9)" x="0" y="0" font-size="4.2" text-anchor="middle" fill="#1a1a1a" style="font-family:Liberation Sans,sans-serif;" stroke="#1a1a1a" stroke-width="0.051">Loss</text>
<text transform="translate(74.90,97.00) rotate(0.1)" x="0" y="0" font-size="5.45" text-anchor="middle" fill="#1a1a1a" style="font-family:Liberation Serif,serif;" stroke="#1a1a1a" stroke-width="0.053">L1D Loss</text>
<clipPath id="c5"><rect x="154.7" y="99.3" width="115.70" height="68.20"/></clipPath>
<g clip-path="url(#c5)"><circle cx="260.85" cy="116.74" r="1.3" fill="#800080"/><polyline points="159.96,150.79 162.11,150.52 164.25,150.24 166.40,149.96 168.55,149.77 170.69,149.58 172.84,149.39 174.99,149.20 177.13,149.14 179.28,149.09 181.42,149.04 183.57,148.99 185.72,148.94 187.86,148.89 190.01,148.84 192.16,148.79 194.30,148.74 196.45,148.68 198.60,148.61 200.74,148.54 202.89,148.47 205.04,148.40 207.18,148.32 209.33,148.25 211.48,148.18 213.62,148.11 215.77,148.09 217.92,148.07 220.06,148.05 222.21,148.03 224.36,148.01 226.50,147.99 228.65,147.97 230.80,147.96 232.94,147.94 235.09,147.92 237.24,147.91 239.38,147.90 241.53,147.89 243.68,147.88 245.82,147.87 247.97,147.86 250.11,147.85 252.26,147.84 254.41,147.84 256.55,147.83 258.70,147.82 260.85,147.81 262.99,147.80 265.14,147.79" fill="none" stroke="#ffe0bc" stroke-width="1.0" stroke-opacity="1.0" stroke-linejoin="round"/><polyline points="159.96,148.30 162.11,153.03 164.25,152.94 166.40,152.86 168.55,152.77 170.69,152.69 172.84,152.60 174.99,152.52 177.13,152.13 179.28,152.13 181.42,152.13 183.57,152.13 185.72,152.13 187.86,152.13 190.01,152.13 192.16,152.13 194.30,152.13 196.45,152.13 198.60,152.13 200.74,152.13 202.89,152.13 205.04,152.10 207.18,152.07 209.33,152.04 211.48,152.01 213.62,151.98 215.77,151.96 217.92,151.93 220.06,151.90 222.21,151.87 224.36,151.84 226.50,151.81 228.65,151.78 230.80,151.75 232.94,151.72 235.09,151.69 237.24,151.67 239.38,151.66 241.53,151.65 243.68,151.63 245.82,151.62 247.97,151.60 250.11,151.59 252.26,151.58 254.41,151.56 256.55,151.55 258.70,151.54 260.85,151.52 262.99,151.51 265.14,151.50" fill="none" stroke="#b4e0ee" stroke-width="1.0" stroke-opacity="1.0" stroke-linejoin="round"/><polyline points="159.96,121.66 162.11,116.55 164.25,115.27 166.40,114.74 168.55,114.21 170.69,113.67 172.84,113.20 174.99,112.72 177.13,112.44 179.28,112.16 181.42,111.89 183.57,111.63 185.72,111.37 187.86,111.12 190.01,110.97 192.16,110.81 194.30,110.66 196.45,110.51 198.60,110.35 200.74,110.17 202.89,109.99 205.04,109.82 207.18,109.64 209.33,109.46 211.48,109.33 213.62,109.20 215.77,109.07 217.92,108.95 220.06,108.82 222.21,108.69 224.36,108.56 226.50,108.46 228.65,108.35 230.80,108.24 232.94,108.14 235.09,108.03 237.24,107.92 239.38,107.85 241.53,107.78 243.68,107.70 245.82,107.63 247.97,107.55 250.11,107.48 252.26,107.45 254.41,107.42 256.55,107.40 258.70,107.37 260.85,107.34 262.99,107.31 265.14,107.29" fill="none" stroke="#ffa726" stroke-width="1.2" stroke-opacity="0.7" stroke-linejoin="round"/><polyline points="159.96,127.15 162.11,125.17 164.25,123.77 166.40,123.32 168.55,123.26 170.69,121.66 172.84,121.98 174.99,121.98 177.13,118.91 179.28,118.91 181.42,117.19 183.57,118.91 185.72,118.34 187.86,121.66 190.01,118.34 192.16,122.55 194.30,118.59 196.45,118.91 198.60,118.34 200.74,119.10 202.89,120.19 205.04,118.15 207.18,117.83 209.33,117.44 211.48,118.91 213.62,119.30 215.77,116.42 217.92,118.72 220.06,117.57 222.21,117.19 224.36,116.42 226.50,117.57 228.65,117.00 230.80,117.64 232.94,117.89 235.09,117.57 237.24,117.83 239.38,118.15 241.53,117.51 243.68,116.80 245.82,117.19 247.97,117.57 250.11,118.15 252.26,117.00 254.41,117.83 256.55,117.38 258.70,117.19 260.85,117.00 262.99,117.00 265.14,119.04" fill="none" stroke="#3a3aff" stroke-width="1.15" stroke-opacity="0.85" stroke-linejoin="round"/></g>
<rect x="154.7" y="99.3" width="115.70" height="67.40" fill="none" stroke="#b2b2b2" stroke-width="1.3"/>
<line x1="153.10" y1="166.70" x2="154.70" y2="166.70" stroke="#808080" stroke-width="0.9"/>
<text transform="translate(151.90,168.38) rotate(0.1)" x="0" y="0" font-size="4.1" text-anchor="end" fill="#1a1a1a" style="font-family:Liberation Sans,sans-serif;" stroke="#1a1a1a" stroke-width="0.050">0.0</text>
<line x1="153.10" y1="153.92" x2="154.70" y2="153.92" stroke="#808080" stroke-width="0.9"/>
<text transform="translate(151.90,155.60) rotate(0.1)" x="0" y="0" font-size="4.1" text-anchor="end" fill="#1a1a1a" style="font-family:Liberation Sans,sans-serif;" stroke="#1a1a1a" stroke-width="0.050">0.2</text>
<line x1="153.10" y1="141.15" x2="154.70" y2="141.15" stroke="#808080" stroke-width="0.9"/>
<text transform="translate(151.90,142.82) rotate(0.1)" x="0" y="0" font-size="4.1" text-anchor="end" fill="#1a1a1a" style="font-family:Liberation Sans,sans-serif;" stroke="#1a1a1a" stroke-width="0.050">0.4</text>
<line x1="153.10" y1="128.37" x2="154.70" y2="128.37" stroke="#808080" stroke-width="0.9"/>
<text transform="translate(151.90,130.04) rotate(0.1)" x="0" y="0" font-size="4.1" text-anchor="end" fill="#1a1a1a" style="font-family:Liberation Sans,sans-serif;" stroke="#1a1a1a" stroke-width="0.050">0.6</text>
<line x1="153.10" y1="115.59" x2="154.70" y2="115.59" stroke="#808080" stroke-width="0.9"/>
<text transform="translate(151.90,117.27) rotate(0.1)" x="0" y="0" font-size="4.1" text-anchor="end" fill="#1a1a1a" style="font-family:Liberation Sans,sans-serif;" stroke="#1a1a1a" stroke-width="0.050">0.8</text>
<line x1="153.10" y1="102.81" x2="154.70" y2="102.81" stroke="#808080" stroke-width="0.9"/>
<text transform="translate(151.90,104.49) rotate(0.1)" x="0" y="0" font-size="4.1" text-anchor="end" fill="#1a1a1a" style="font-family:Liberation Sans,sans-serif;" stroke="#1a1a1a" stroke-width="0.050">1.0</text>
<line x1="159.96" y1="166.70" x2="159.96" y2="168.30" stroke="#808080" stroke-width="0.9"/>
<text transform="translate(159.96,172.35) rotate(0.1)" x="0" y="0" font-size="4.1" text-anchor="middle" fill="#1a1a1a" style="font-family:Liberation Sans,sans-serif;" stroke="#1a1a1a" stroke-width="0.050">0</text>
<line x1="181.42" y1="166.70" x2="181.42" y2="168.30" stroke="#808080" stroke-width="0.9"/>
<text transform="translate(181.42,172.35) rotate(0.1)" x="0" y="0" font-size="4.1" text-anchor="middle" fill="#1a1a1a" style="font-family:Liberation Sans,sans-serif;" stroke="#1a1a1a" stroke-width="0.050">10</text>
<line x1="202.89" y1="166.70" x2="202.89" y2="168.30" stroke="#808080" stroke-width="0.9"/>
<text transform="translate(202.89,172.35) rotate(0.1)" x="0" y="0" font-size="4.1" text-anchor="middle" fill="#1a1a1a" style="font-family:Liberation Sans,sans-serif;" stroke="#1a1a1a" stroke-width="0.050">20</text>
<line x1="224.36" y1="166.70" x2="224.36" y2="168.30" stroke="#808080" stroke-width="0.9"/>
<text transform="translate(224.36,172.35) rotate(0.1)" x="0" y="0" font-size="4.1" text-anchor="middle" fill="#1a1a1a" style="font-family:Liberation Sans,sans-serif;" stroke="#1a1a1a" stroke-width="0.050">30</text>
<line x1="245.82" y1="166.70" x2="245.82" y2="168.30" stroke="#808080" stroke-width="0.9"/>
<text transform="translate(245.82,172.35) rotate(0.1)" x="0" y="0" font-size="4.1" text-anchor="middle" fill="#1a1a1a" style="font-family:Liberation Sans,sans-serif;" stroke="#1a1a1a" stroke-width="0.050">40</text>
<line x1="267.29" y1="166.70" x2="267.29" y2="168.30" stroke="#808080" stroke-width="0.9"/>
<text transform="translate(267.29,172.35) rotate(0.1)" x="0" y="0" font-size="4.1" text-anchor="middle" fill="#1a1a1a" style="font-family:Liberation Sans,sans-serif;" stroke="#1a1a1a" stroke-width="0.050">50</text>
<text transform="translate(212.85,177.75) rotate(0.1)" x="0" y="0" font-size="4.2" text-anchor="middle" fill="#1a1a1a" style="font-family:Liberation Sans,sans-serif;" stroke="#1a1a1a" stroke-width="0.051">Epoch</text>
<text transform="translate(143.40,133.50) rotate(-89.9)" x="0" y="0" font-size="4.2" text-anchor="middle" fill="#1a1a1a" style="font-family:Liberation Sans,sans-serif;" stroke="#1a1a1a" stroke-width="0.051">Accuracy</text>
<text transform="translate(214.15,97.00) rotate(0.1)" x="0" y="0" font-size="5.25" text-anchor="middle" fill="#1a1a1a" style="font-family:Liberation Sans,sans-serif;" stroke="#1a1a1a" stroke-width="0.051">L1D Accuracy (V:78.97%)</text>
<clipPath id="c6"><rect x="291.3" y="99.3" width="116.60" height="68.20"/></clipPath>
<g clip-path="url(#c6)"><circle cx="389.35" cy="143.11" r="1.3" fill="#00ffff"/><polyline points="296.60,123.92 301.02,134.47 305.43,142.08 309.85,147.07 314.27,150.29 318.68,152.63 323.10,155.27 327.52,156.88 331.93,158.20 336.35,159.23 340.77,159.96 345.18,160.62 349.60,161.28 354.02,161.67 358.43,162.06 362.85,162.45 367.27,162.71 371.68,162.98 376.10,163.24 380.52,163.51 384.93,163.77 389.35,163.99 393.77,164.21 398.18,164.43 402.60,164.65" fill="none" stroke="#ffa726" stroke-width="1.2" stroke-opacity="0.7" stroke-linejoin="round"/><polyline points="296.60,101.94 301.02,108.82 305.43,118.35 309.85,130.07 314.27,138.13 318.68,140.33 323.10,141.50 327.52,142.08 331.93,142.67 336.35,140.62 340.77,141.79 345.18,142.08 349.60,142.38 354.02,142.23 358.43,142.38 362.85,142.38 367.27,142.38 371.68,142.38 376.10,141.50 380.52,142.38 384.93,142.52 389.35,143.11 393.77,142.08 398.18,142.52 402.60,142.38" fill="none" stroke="#3a3aff" stroke-width="1.15" stroke-opacity="0.85" stroke-linejoin="round"/></g>
<rect x="291.3" y="99.3" width="116.60" height="67.40" fill="none" stroke="#b2b2b2" stroke-width="1.3"/>
<line x1="289.70" y1="166.70" x2="291.30" y2="166.70" stroke="#808080" stroke-width="0.9"/>
<text transform="translate(288.50,168.38) rotate(0.1)" x="0" y="0" font-size="4.1" text-anchor="end" fill="#1a1a1a" style="font-family:Liberation Sans,sans-serif;" stroke="#1a1a1a" stroke-width="0.050">0.0</text>
<line x1="289.70" y1="152.05" x2="291.30" y2="152.05" stroke="#808080" stroke-width="0.9"/>
<text transform="translate(288.50,153.72) rotate(0.1)" x="0" y="0" font-size="4.1" text-anchor="end" fill="#1a1a1a" style="font-family:Liberation Sans,sans-serif;" stroke="#1a1a1a" stroke-width="0.050">0.1</text>
<line x1="289.70" y1="137.40" x2="291.30" y2="137.40" stroke="#808080" stroke-width="0.9"/>
<text transform="translate(288.50,139.07) rotate(0.1)" x="0" y="0" font-size="4.1" text-anchor="end" fill="#1a1a1a" style="font-family:Liberation Sans,sans-serif;" stroke="#1a1a1a" stroke-width="0.050">0.2</text>
<line x1="289.70" y1="122.74" x2="291.30" y2="122.74" stroke="#808080" stroke-width="0.9"/>
<text transform="translate(288.50,124.42) rotate(0.1)" x="0" y="0" font-size="4.1" text-anchor="end" fill="#1a1a1a" style="font-family:Liberation Sans,sans-serif;" stroke="#1a1a1a" stroke-width="0.050">0.3</text>
<line x1="289.70" y1="108.09" x2="291.30" y2="108.09" stroke="#808080" stroke-width="0.9"/>
<text transform="translate(288.50,109.77) rotate(0.1)" x="0" y="0" font-size="4.1" text-anchor="end" fill="#1a1a1a" style="font-family:Liberation Sans,sans-serif;" stroke="#1a1a1a" stroke-width="0.050">0.4</text>
<line x1="296.60" y1="166.70" x2="296.60" y2="168.30" stroke="#808080" stroke-width="0.9"/>
<text transform="translate(296.60,172.35) rotate(0.1)" x="0" y="0" font-size="4.1" text-anchor="middle" fill="#1a1a1a" style="font-family:Liberation Sans,sans-serif;" stroke="#1a1a1a" stroke-width="0.050">0</text>
<line x1="318.68" y1="166.70" x2="318.68" y2="168.30" stroke="#808080" stroke-width="0.9"/>
<text transform="translate(318.68,172.35) rotate(0.1)" x="0" y="0" font-size="4.1" text-anchor="middle" fill="#1a1a1a" style="font-family:Liberation Sans,sans-serif;" stroke="#1a1a1a" stroke-width="0.050">5</text>
<line x1="340.77" y1="166.70" x2="340.77" y2="168.30" stroke="#808080" stroke-width="0.9"/>
<text transform="translate(340.77,172.35) rotate(0.1)" x="0" y="0" font-size="4.1" text-anchor="middle" fill="#1a1a1a" style="font-family:Liberation Sans,sans-serif;" stroke="#1a1a1a" stroke-width="0.050">10</text>
<line x1="362.85" y1="166.70" x2="362.85" y2="168.30" stroke="#808080" stroke-width="0.9"/>
<text transform="translate(362.85,172.35) rotate(0.1)" x="0" y="0" font-size="4.1" text-anchor="middle" fill="#1a1a1a" style="font-family:Liberation Sans,sans-serif;" stroke="#1a1a1a" stroke-width="0.050">15</text>
<line x1="384.93" y1="166.70" x2="384.93" y2="168.30" stroke="#808080" stroke-width="0.9"/>
<text transform="translate(384.93,172.35) rotate(0.1)" x="0" y="0" font-size="4.1" text-anchor="middle" fill="#1a1a1a" style="font-family:Liberation Sans,sans-serif;" stroke="#1a1a1a" stroke-width="0.050">20</text>
<line x1="407.02" y1="166.70" x2="407.02" y2="168.30" stroke="#808080" stroke-width="0.9"/>
<text transform="translate(407.02,172.35) rotate(0.1)" x="0" y="0" font-size="4.1" text-anchor="middle" fill="#1a1a1a" style="font-family:Liberation Sans,sans-serif;" stroke="#1a1a1a" stroke-width="0.050">25</text>
<text transform="translate(349.90,177.75) rotate(0.1)" x="0" y="0" font-size="4.2" text-anchor="middle" fill="#1a1a1a" style="font-family:Liberation Sans,sans-serif;" stroke="#1a1a1a" stroke-width="0.051">Epoch</text>
<text transform="translate(280.00,133.50) rotate(-89.9)" x="0" y="0" font-size="4.2" text-anchor="middle" fill="#1a1a1a" style="font-family:Liberation Sans,sans-serif;" stroke="#1a1a1a" stroke-width="0.051">Loss</text>
<text transform="translate(349.60,97.00) rotate(0.1)" x="0" y="0" font-size="5.45" text-anchor="middle" fill="#1a1a1a" style="font-family:Liberation Serif,serif;" stroke="#1a1a1a" stroke-width="0.053">H2D_L2D Loss</text>
<clipPath id="c7"><rect x="428.5" y="99.3" width="116.10" height="68.20"/></clipPath>
<g clip-path="url(#c7)"><circle cx="508.54" cy="110.08" r="1.25" fill="#800080"/><circle cx="508.54" cy="112.01" r="1.1" fill="#ee82ee"/><polyline points="433.78,123.24 438.18,114.71 442.57,109.63 446.97,106.62 451.37,105.21 455.77,103.99 460.16,103.41 464.56,103.02 468.96,102.96 473.36,102.89 477.75,102.83 482.15,102.83 486.55,102.82 490.95,102.82 495.35,102.81 499.74,102.81 504.14,102.80 508.54,102.80 512.94,102.79 517.33,102.79 521.73,102.78 526.13,102.78 530.53,102.78 534.93,102.77 539.32,102.77" fill="none" stroke="#ffa726" stroke-width="1.2" stroke-opacity="0.7" stroke-linejoin="round"/><polyline points="433.78,130.37 438.18,123.63 442.57,117.02 446.97,113.29 451.37,113.17 455.77,113.17 460.16,113.17 464.56,114.26 468.96,113.17 473.36,114.06 477.75,113.04 482.15,112.59 486.55,113.17 490.95,113.10 495.35,112.78 499.74,112.91 504.14,112.46 508.54,112.01 512.94,114.06 517.33,113.10 521.73,112.78 526.13,113.10 530.53,112.91 534.93,113.29 539.32,113.10" fill="none" stroke="#3a3aff" stroke-width="1.15" stroke-opacity="0.85" stroke-linejoin="round"/></g>
<rect x="428.5" y="99.3" width="116.10" height="67.40" fill="none" stroke="#b2b2b2" stroke-width="1.3"/>
<line x1="426.90" y1="166.70" x2="428.50" y2="166.70" stroke="#808080" stroke-width="0.9"/>
<text transform="translate(425.70,168.38) rotate(0.1)" x="0" y="0" font-size="4.1" text-anchor="end" fill="#1a1a1a" style="font-family:Liberation Sans,sans-serif;" stroke="#1a1a1a" stroke-width="0.050">0.0</text>
<line x1="426.90" y1="153.86" x2="428.50" y2="153.86" stroke="#808080" stroke-width="0.9"/>
<text transform="translate(425.70,155.54) rotate(0.1)" x="0" y="0" font-size="4.1" text-anchor="end" fill="#1a1a1a" style="font-family:Liberation Sans,sans-serif;" stroke="#1a1a1a" stroke-width="0.050">0.2</text>
<line x1="426.90" y1="141.02" x2="428.50" y2="141.02" stroke="#808080" stroke-width="0.9"/>
<text transform="translate(425.70,142.70) rotate(0.1)" x="0" y="0" font-size="4.1" text-anchor="end" fill="#1a1a1a" style="font-family:Liberation Sans,sans-serif;" stroke="#1a1a1a" stroke-width="0.050">0.4</text>
<line x1="426.90" y1="128.19" x2="428.50" y2="128.19" stroke="#808080" stroke-width="0.9"/>
<text transform="translate(425.70,129.86) rotate(0.1)" x="0" y="0" font-size="4.1" text-anchor="end" fill="#1a1a1a" style="font-family:Liberation Sans,sans-serif;" stroke="#1a1a1a" stroke-width="0.050">0.6</text>
<line x1="426.90" y1="115.35" x2="428.50" y2="115.35" stroke="#808080" stroke-width="0.9"/>
<text transform="translate(425.70,117.02) rotate(0.1)" x="0" y="0" font-size="4.1" text-anchor="end" fill="#1a1a1a" style="font-family:Liberation Sans,sans-serif;" stroke="#1a1a1a" stroke-width="0.050">0.8</text>
<line x1="426.90" y1="102.51" x2="428.50" y2="102.51" stroke="#808080" stroke-width="0.9"/>
<text transform="translate(425.70,104.19) rotate(0.1)" x="0" y="0" font-size="4.1" text-anchor="end" fill="#1a1a1a" style="font-family:Liberation Sans,sans-serif;" stroke="#1a1a1a" stroke-width="0.050">1.0</text>
<line x1="433.78" y1="166.70" x2="433.78" y2="168.30" stroke="#808080" stroke-width="0.9"/>
<text transform="translate(433.78,172.35) rotate(0.1)" x="0" y="0" font-size="4.1" text-anchor="middle" fill="#1a1a1a" style="font-family:Liberation Sans,sans-serif;" stroke="#1a1a1a" stroke-width="0.050">0</text>
<line x1="455.77" y1="166.70" x2="455.77" y2="168.30" stroke="#808080" stroke-width="0.9"/>
<text transform="translate(455.77,172.35) rotate(0.1)" x="0" y="0" font-size="4.1" text-anchor="middle" fill="#1a1a1a" style="font-family:Liberation Sans,sans-serif;" stroke="#1a1a1a" stroke-width="0.050">5</text>
<line x1="477.75" y1="166.70" x2="477.75" y2="168.30" stroke="#808080" stroke-width="0.9"/>
<text transform="translate(477.75,172.35) rotate(0.1)" x="0" y="0" font-size="4.1" text-anchor="middle" fill="#1a1a1a" style="font-family:Liberation Sans,sans-serif;" stroke="#1a1a1a" stroke-width="0.050">10</text>
<line x1="499.74" y1="166.70" x2="499.74" y2="168.30" stroke="#808080" stroke-width="0.9"/>
<text transform="translate(499.74,172.35) rotate(0.1)" x="0" y="0" font-size="4.1" text-anchor="middle" fill="#1a1a1a" style="font-family:Liberation Sans,sans-serif;" stroke="#1a1a1a" stroke-width="0.050">15</text>
<line x1="521.73" y1="166.70" x2="521.73" y2="168.30" stroke="#808080" stroke-width="0.9"/>
<text transform="translate(521.73,172.35) rotate(0.1)" x="0" y="0" font-size="4.1" text-anchor="middle" fill="#1a1a1a" style="font-family:Liberation Sans,sans-serif;" stroke="#1a1a1a" stroke-width="0.050">20</text>
<line x1="543.72" y1="166.70" x2="543.72" y2="168.30" stroke="#808080" stroke-width="0.9"/>
<text transform="translate(543.72,172.35) rotate(0.1)" x="0" y="0" font-size="4.1" text-anchor="middle" fill="#1a1a1a" style="font-family:Liberation Sans,sans-serif;" stroke="#1a1a1a" stroke-width="0.050">25</text>
<text transform="translate(486.85,177.75) rotate(0.1)" x="0" y="0" font-size="4.2" text-anchor="middle" fill="#1a1a1a" style="font-family:Liberation Sans,sans-serif;" stroke="#1a1a1a" stroke-width="0.051">Epoch</text>
<text transform="translate(417.20,133.50) rotate(-89.9)" x="0" y="0" font-size="4.2" text-anchor="middle" fill="#1a1a1a" style="font-family:Liberation Sans,sans-serif;" stroke="#1a1a1a" stroke-width="0.051">Accuracy</text>
<text transform="translate(487.15,97.00) rotate(0.1)" x="0" y="0" font-size="5.25" text-anchor="middle" fill="#1a1a1a" style="font-family:Liberation Sans,sans-serif;" stroke="#1a1a1a" stroke-width="0.051">H2D_L2D Accuracy (V:84.35%)</text>
<clipPath id="c8"><rect x="17.5" y="189.3" width="116.00" height="68.35"/></clipPath>
<g clip-path="url(#c8)"><circle cx="37.84" cy="215.82" r="1.3" fill="#00ffff"/><polyline points="22.77,203.82 24.92,211.67 27.08,214.48 29.23,216.78 31.38,219.08 33.53,221.08 35.69,223.08 37.84,225.52 39.99,227.96 42.14,231.07 44.29,234.19 46.45,236.11 48.60,238.04 50.75,239.44 52.90,240.85 55.05,241.84 57.21,242.83 59.36,243.81 61.51,244.48 63.66,245.15 65.82,245.54 67.97,245.94 70.12,246.33 72.27,246.53 74.42,246.73 76.58,246.92 78.73,247.13 80.88,247.34 83.03,247.55 85.18,247.75 87.34,247.96 89.49,248.15 91.64,248.35 93.79,248.54 95.95,248.73 98.10,248.92 100.25,249.12 102.40,249.31 104.55,249.50 106.71,249.70 108.86,249.89 111.01,250.05 113.16,250.22 115.31,250.38 117.47,250.55 119.62,250.71 121.77,250.88 123.92,251.04 126.08,251.20 128.23,251.37" fill="none" stroke="#ffa726" stroke-width="1.2" stroke-opacity="0.7" stroke-linejoin="round"/><polyline points="22.77,196.85 24.92,202.04 27.08,206.19 29.23,209.15 31.38,210.93 33.53,211.96 35.69,213.00 37.84,215.82 39.99,213.89 42.14,213.45 44.29,213.15 46.45,211.67 48.60,209.00 50.75,212.11 52.90,213.15 55.05,213.59 57.21,212.41 59.36,211.96 61.51,212.41 63.66,211.22 65.82,210.19 67.97,209.00 70.12,212.11 72.27,212.71 74.42,213.00 76.58,212.41 78.73,211.37 80.88,210.93 83.03,210.63 85.18,210.93 87.34,212.71 89.49,212.11 91.64,212.41 93.79,210.19 95.95,212.41 98.10,211.67 100.25,213.45 102.40,212.11 104.55,212.71 106.71,211.96 108.86,212.41 111.01,211.67 113.16,212.71 115.31,211.67 117.47,212.11 119.62,211.22 121.77,212.71 123.92,210.93 126.08,212.11 128.23,210.63" fill="none" stroke="#3a3aff" stroke-width="1.15" stroke-opacity="0.85" stroke-linejoin="round"/></g>
<rect x="17.5" y="189.3" width="116.00" height="67.55" fill="none" stroke="#b2b2b2" stroke-width="1.3"/>
<line x1="15.90" y1="256.85" x2="17.50" y2="256.85" stroke="#808080" stroke-width="0.9"/>
<text transform="translate(14.70,258.53) rotate(0.1)" x="0" y="0" font-size="4.1" text-anchor="end" fill="#1a1a1a" style="font-family:Liberation Sans,sans-serif;" stroke="#1a1a1a" stroke-width="0.050">0.0</text>
<line x1="15.90" y1="242.04" x2="17.50" y2="242.04" stroke="#808080" stroke-width="0.9"/>
<text transform="translate(14.70,243.71) rotate(0.1)" x="0" y="0" font-size="4.1" text-anchor="end" fill="#1a1a1a" style="font-family:Liberation Sans,sans-serif;" stroke="#1a1a1a" stroke-width="0.050">0.1</text>
<line x1="15.90" y1="227.22" x2="17.50" y2="227.22" stroke="#808080" stroke-width="0.9"/>
<text transform="translate(14.70,228.90) rotate(0.1)" x="0" y="0" font-size="4.1" text-anchor="end" fill="#1a1a1a" style="font-family:Liberation Sans,sans-serif;" stroke="#1a1a1a" stroke-width="0.050">0.2</text>
<line x1="15.90" y1="212.41" x2="17.50" y2="212.41" stroke="#808080" stroke-width="0.9"/>
<text transform="translate(14.70,214.09) rotate(0.1)" x="0" y="0" font-size="4.1" text-anchor="end" fill="#1a1a1a" style="font-family:Liberation Sans,sans-serif;" stroke="#1a1a1a" stroke-width="0.050">0.3</text>
<line x1="15.90" y1="197.60" x2="17.50" y2="197.60" stroke="#808080" stroke-width="0.9"/>
<text transform="translate(14.70,199.27) rotate(0.1)" x="0" y="0" font-size="4.1" text-anchor="end" fill="#1a1a1a" style="font-family:Liberation Sans,sans-serif;" stroke="#1a1a1a" stroke-width="0.050">0.4</text>
<line x1="22.77" y1="256.85" x2="22.77" y2="258.45" stroke="#808080" stroke-width="0.9"/>
<text transform="translate(22.77,262.50) rotate(0.1)" x="0" y="0" font-size="4.1" text-anchor="middle" fill="#1a1a1a" style="font-family:Liberation Sans,sans-serif;" stroke="#1a1a1a" stroke-width="0.050">0</text>
<line x1="44.29" y1="256.85" x2="44.29" y2="258.45" stroke="#808080" stroke-width="0.9"/>
<text transform="translate(44.29,262.50) rotate(0.1)" x="0" y="0" font-size="4.1" text-anchor="middle" fill="#1a1a1a" style="font-family:Liberation Sans,sans-serif;" stroke="#1a1a1a" stroke-width="0.050">10</text>
<line x1="65.82" y1="256.85" x2="65.82" y2="258.45" stroke="#808080" stroke-width="0.9"/>
<text transform="translate(65.82,262.50) rotate(0.1)" x="0" y="0" font-size="4.1" text-anchor="middle" fill="#1a1a1a" style="font-family:Liberation Sans,sans-serif;" stroke="#1a1a1a" stroke-width="0.050">20</text>
<line x1="87.34" y1="256.85" x2="87.34" y2="258.45" stroke="#808080" stroke-width="0.9"/>
<text transform="translate(87.34,262.50) rotate(0.1)" x="0" y="0" font-size="4.1" text-anchor="middle" fill="#1a1a1a" style="font-family:Liberation Sans,sans-serif;" stroke="#1a1a1a" stroke-width="0.050">30</text>
<line x1="108.86" y1="256.85" x2="108.86" y2="258.45" stroke="#808080" stroke-width="0.9"/>
<text transform="translate(108.86,262.50) rotate(0.1)" x="0" y="0" font-size="4.1" text-anchor="middle" fill="#1a1a1a" style="font-family:Liberation Sans,sans-serif;" stroke="#1a1a1a" stroke-width="0.050">40</text>
<line x1="130.38" y1="256.85" x2="130.38" y2="258.45" stroke="#808080" stroke-width="0.9"/>
<text transform="translate(130.38,262.50) rotate(0.1)" x="0" y="0" font-size="4.1" text-anchor="middle" fill="#1a1a1a" style="font-family:Liberation Sans,sans-serif;" stroke="#1a1a1a" stroke-width="0.050">50</text>
<text transform="translate(75.80,267.90) rotate(0.1)" x="0" y="0" font-size="4.2" text-anchor="middle" fill="#1a1a1a" style="font-family:Liberation Sans,sans-serif;" stroke="#1a1a1a" stroke-width="0.051">Epoch</text>
<text transform="translate(6.20,223.58) rotate(-89.9)" x="0" y="0" font-size="4.2" text-anchor="middle" fill="#1a1a1a" style="font-family:Liberation Sans,sans-serif;" stroke="#1a1a1a" stroke-width="0.051">Loss</text>
<text transform="translate(74.50,187.00) rotate(0.1)" x="0" y="0" font-size="5.45" text-anchor="middle" fill="#1a1a1a" style="font-family:Liberation Serif,serif;" stroke="#1a1a1a" stroke-width="0.053">L2D Loss</text>
<clipPath id="c9"><rect x="154.7" y="189.3" width="115.70" height="68.35"/></clipPath>
<g clip-path="url(#c9)"><circle cx="174.99" cy="213.71" r="1.3" fill="#800080"/><polyline points="159.96,244.07 162.11,241.77 164.25,241.02 166.40,240.27 168.55,239.52 170.69,238.76 172.84,237.97 174.99,237.18 177.13,236.39 179.28,235.59 181.42,234.80 183.57,234.19 185.72,233.59 187.86,233.46 190.01,233.33 192.16,233.20 194.30,233.08 196.45,232.95 198.60,232.82 200.74,232.69 202.89,232.57 205.04,232.57 207.18,232.57 209.33,232.57 211.48,232.57 213.62,232.57 215.77,232.57 217.92,232.57 220.06,232.57 222.21,232.57 224.36,232.57 226.50,232.57 228.65,232.57 230.80,232.57 232.94,232.57 235.09,232.57 237.24,232.57 239.38,232.57 241.53,232.57 243.68,232.57 245.82,232.57 247.97,232.57 250.11,232.57 252.26,232.57 254.41,232.57 256.55,232.57 258.70,232.57 260.85,232.57 262.99,232.57 265.14,232.57" fill="none" stroke="#ffe0bc" stroke-width="1.0" stroke-opacity="1.0" stroke-linejoin="round"/><polyline points="159.96,246.50 162.11,245.18 164.25,243.86 166.40,242.53 168.55,242.11 170.69,241.68 172.84,241.26 174.99,241.13 177.13,241.00 179.28,240.87 181.42,240.75 183.57,241.45 185.72,242.15 187.86,241.85 190.01,241.55 192.16,241.26 194.30,241.24 196.45,241.23 198.60,241.22 200.74,241.21 202.89,241.19 205.04,241.22 207.18,241.26 209.33,241.29 211.48,241.32 213.62,241.35 215.77,241.38 217.92,241.42 220.06,241.45 222.21,241.48 224.36,241.51 226.50,241.46 228.65,241.41 230.80,241.36 232.94,241.31 235.09,241.26 237.24,241.21 239.38,241.15 241.53,241.10 243.68,241.05 245.82,241.00 247.97,241.04 250.11,241.07 252.26,241.11 254.41,241.14 256.55,241.18 258.70,241.21 260.85,241.25 262.99,241.29 265.14,241.32" fill="none" stroke="#b4e0ee" stroke-width="1.0" stroke-opacity="1.0" stroke-linejoin="round"/><polyline points="159.96,225.54 162.11,214.03 164.25,212.11 166.40,210.52 168.55,208.92 170.69,206.68 172.84,204.45 174.99,202.53 177.13,200.93 179.28,199.65 181.42,198.37 183.57,197.42 185.72,196.46 187.86,195.93 190.01,195.39 192.16,194.86 194.30,194.60 196.45,194.35 198.60,194.09 200.74,193.84 202.89,193.58 205.04,193.55 207.18,193.52 209.33,193.49 211.48,193.45 213.62,193.42 215.77,193.39 217.92,193.36 220.06,193.33 222.21,193.29 224.36,193.26 226.50,193.26 228.65,193.25 230.80,193.24 232.94,193.24 235.09,193.23 237.24,193.22 239.38,193.22 241.53,193.21 243.68,193.20 245.82,193.19 247.97,193.19 250.11,193.18 252.26,193.17 254.41,193.17 256.55,193.16 258.70,193.15 260.85,193.15 262.99,193.14 265.14,193.13" fill="none" stroke="#ffa726" stroke-width="1.2" stroke-opacity="0.7" stroke-linejoin="round"/><polyline points="159.96,230.14 162.11,225.54 164.25,222.66 166.40,220.10 168.55,218.51 170.69,217.55 172.84,216.46 174.99,213.71 177.13,215.44 179.28,214.67 181.42,214.29 183.57,214.99 185.72,216.72 187.86,214.67 190.01,214.03 192.16,213.71 194.30,214.16 196.45,214.29 198.60,214.99 200.74,215.25 202.89,216.33 205.04,216.84 207.18,214.54 209.33,214.99 211.48,215.25 213.62,215.44 215.77,215.63 217.92,216.59 220.06,217.36 222.21,215.63 224.36,215.18 226.50,214.86 228.65,214.93 230.80,214.93 232.94,215.95 235.09,216.84 237.24,214.93 239.38,215.50 241.53,214.54 243.68,214.99 245.82,215.50 247.97,215.57 250.11,215.63 252.26,216.27 254.41,216.65 256.55,215.63 258.70,215.25 260.85,216.84 262.99,214.54 265.14,216.65" fill="none" stroke="#3a3aff" stroke-width="1.15" stroke-opacity="0.85" stroke-linejoin="round"/></g>
<rect x="154.7" y="189.3" width="115.70" height="67.55" fill="none" stroke="#b2b2b2" stroke-width="1.3"/>
<line x1="153.10" y1="256.85" x2="154.70" y2="256.85" stroke="#808080" stroke-width="0.9"/>
<text transform="translate(151.90,258.53) rotate(0.1)" x="0" y="0" font-size="4.1" text-anchor="end" fill="#1a1a1a" style="font-family:Liberation Sans,sans-serif;" stroke="#1a1a1a" stroke-width="0.050">0.0</text>
<line x1="153.10" y1="244.07" x2="154.70" y2="244.07" stroke="#808080" stroke-width="0.9"/>
<text transform="translate(151.90,245.74) rotate(0.1)" x="0" y="0" font-size="4.1" text-anchor="end" fill="#1a1a1a" style="font-family:Liberation Sans,sans-serif;" stroke="#1a1a1a" stroke-width="0.050">0.2</text>
<line x1="153.10" y1="231.29" x2="154.70" y2="231.29" stroke="#808080" stroke-width="0.9"/>
<text transform="translate(151.90,232.96) rotate(0.1)" x="0" y="0" font-size="4.1" text-anchor="end" fill="#1a1a1a" style="font-family:Liberation Sans,sans-serif;" stroke="#1a1a1a" stroke-width="0.050">0.4</text>
<line x1="153.10" y1="218.51" x2="154.70" y2="218.51" stroke="#808080" stroke-width="0.9"/>
<text transform="translate(151.90,220.18) rotate(0.1)" x="0" y="0" font-size="4.1" text-anchor="end" fill="#1a1a1a" style="font-family:Liberation Sans,sans-serif;" stroke="#1a1a1a" stroke-width="0.050">0.6</text>
<line x1="153.10" y1="205.72" x2="154.70" y2="205.72" stroke="#808080" stroke-width="0.9"/>
<text transform="translate(151.90,207.40) rotate(0.1)" x="0" y="0" font-size="4.1" text-anchor="end" fill="#1a1a1a" style="font-family:Liberation Sans,sans-serif;" stroke="#1a1a1a" stroke-width="0.050">0.8</text>
<line x1="153.10" y1="192.94" x2="154.70" y2="192.94" stroke="#808080" stroke-width="0.9"/>
<text transform="translate(151.90,194.62) rotate(0.1)" x="0" y="0" font-size="4.1" text-anchor="end" fill="#1a1a1a" style="font-family:Liberation Sans,sans-serif;" stroke="#1a1a1a" stroke-width="0.050">1.0</text>
<line x1="159.96" y1="256.85" x2="159.96" y2="258.45" stroke="#808080" stroke-width="0.9"/>
<text transform="translate(159.96,262.50) rotate(0.1)" x="0" y="0" font-size="4.1" text-anchor="middle" fill="#1a1a1a" style="font-family:Liberation Sans,sans-serif;" stroke="#1a1a1a" stroke-width="0.050">0</text>
<line x1="181.42" y1="256.85" x2="181.42" y2="258.45" stroke="#808080" stroke-width="0.9"/>
<text transform="translate(181.42,262.50) rotate(0.1)" x="0" y="0" font-size="4.1" text-anchor="middle" fill="#1a1a1a" style="font-family:Liberation Sans,sans-serif;" stroke="#1a1a1a" stroke-width="0.050">10</text>
<line x1="202.89" y1="256.85" x2="202.89" y2="258.45" stroke="#808080" stroke-width="0.9"/>
<text transform="translate(202.89,262.50) rotate(0.1)" x="0" y="0" font-size="4.1" text-anchor="middle" fill="#1a1a1a" style="font-family:Liberation Sans,sans-serif;" stroke="#1a1a1a" stroke-width="0.050">20</text>
<line x1="224.36" y1="256.85" x2="224.36" y2="258.45" stroke="#808080" stroke-width="0.9"/>
<text transform="translate(224.36,262.50) rotate(0.1)" x="0" y="0" font-size="4.1" text-anchor="middle" fill="#1a1a1a" style="font-family:Liberation Sans,sans-serif;" stroke="#1a1a1a" stroke-width="0.050">30</text>
<line x1="245.82" y1="256.85" x2="245.82" y2="258.45" stroke="#808080" stroke-width="0.9"/>
<text transform="translate(245.82,262.50) rotate(0.1)" x="0" y="0" font-size="4.1" text-anchor="middle" fill="#1a1a1a" style="font-family:Liberation Sans,sans-serif;" stroke="#1a1a1a" stroke-width="0.050">40</text>
<line x1="267.29" y1="256.85" x2="267.29" y2="258.45" stroke="#808080" stroke-width="0.9"/>
<text transform="translate(267.29,262.50) rotate(0.1)" x="0" y="0" font-size="4.1" text-anchor="middle" fill="#1a1a1a" style="font-family:Liberation Sans,sans-serif;" stroke="#1a1a1a" stroke-width="0.050">50</text>
<text transform="translate(212.85,267.90) rotate(0.1)" x="0" y="0" font-size="4.2" text-anchor="middle" fill="#1a1a1a" style="font-family:Liberation Sans,sans-serif;" stroke="#1a1a1a" stroke-width="0.051">Epoch</text>
<text transform="translate(143.40,223.58) rotate(-89.9)" x="0" y="0" font-size="4.2" text-anchor="middle" fill="#1a1a1a" style="font-family:Liberation Sans,sans-serif;" stroke="#1a1a1a" stroke-width="0.051">Accuracy</text>
<text transform="translate(212.85,187.00) rotate(0.1)" x="0" y="0" font-size="5.25" text-anchor="middle" fill="#1a1a1a" style="font-family:Liberation Sans,sans-serif;" stroke="#1a1a1a" stroke-width="0.051">L2D Accuracy (V:67.22%)</text>
<rect x="384.3" y="222.3" width="155.9" height="39.9" rx="1" fill="#fff" stroke="#dcdcdc" stroke-width="0.7"/>
<line x1="385.9" y1="228.2" x2="398.5" y2="228.2" stroke="#ffa500" stroke-width="1.2"/>
<line x1="385.9" y1="237.4" x2="398.5" y2="237.4" stroke="#0000ff" stroke-width="1.2"/>
<circle cx="392.4" cy="248.0" r="1.7" fill="#800080"/>
<circle cx="392.4" cy="257.0" r="1.7" fill="#00ffff"/>
<line x1="463.6" y1="228.2" x2="476.0" y2="228.2" stroke="#ffdeb0" stroke-width="1.1"/>
<line x1="463.6" y1="237.4" x2="476.0" y2="237.4" stroke="#a8d8e8" stroke-width="1.1"/>
<circle cx="469.6" cy="247.10000000000002" r="1.7" fill="#ee82ee"/>
<text transform="translate(402.00,230.20) rotate(0.1)" x="0" y="0" font-size="6.5" text-anchor="start" fill="#1a1a1a" style="font-family:Liberation Serif,serif;font-weight:bold;" stroke="#1a1a1a" stroke-width="0.381">Train Loss, Accuracy</text>
<text transform="translate(402.00,239.40) rotate(0.1)" x="0" y="0" font-size="6.5" text-anchor="start" fill="#1a1a1a" style="font-family:Liberation Serif,serif;font-weight:bold;" stroke="#1a1a1a" stroke-width="0.381">Val Loss, Accuracy</text>
<text transform="translate(402.00,248.80) rotate(0.1)" x="0" y="0" font-size="6.5" text-anchor="start" fill="#1a1a1a" style="font-family:Liberation Serif,serif;font-weight:bold;" stroke="#1a1a1a" stroke-width="0.381">Test Accuracy</text>
<text transform="translate(402.00,258.60) rotate(0.1)" x="0" y="0" font-size="6.5" text-anchor="start" fill="#1a1a1a" style="font-family:Liberation Serif,serif;font-weight:bold;" stroke="#1a1a1a" stroke-width="0.381">Min Val Loss</text>
<text transform="translate(478.40,230.20) rotate(0.1)" x="0" y="0" font-size="6.5" text-anchor="start" fill="#1a1a1a" style="font-family:Liberation Serif,serif;font-weight:bold;" stroke="#1a1a1a" stroke-width="0.381">Train Total Accuracy</text>
<text transform="translate(478.40,239.40) rotate(0.1)" x="0" y="0" font-size="6.5" text-anchor="start" fill="#1a1a1a" style="font-family:Liberation Serif,serif;font-weight:bold;" stroke="#1a1a1a" stroke-width="0.381">Val Total Accuracy</text>
<text transform="translate(478.40,248.80) rotate(0.1)" x="0" y="0" font-size="6.5" text-anchor="start" fill="#1a1a1a" style="font-family:Liberation Serif,serif;font-weight:bold;" stroke="#1a1a1a" stroke-width="0.381">Max Val Accuracy</text>
</svg>
</body></html>
